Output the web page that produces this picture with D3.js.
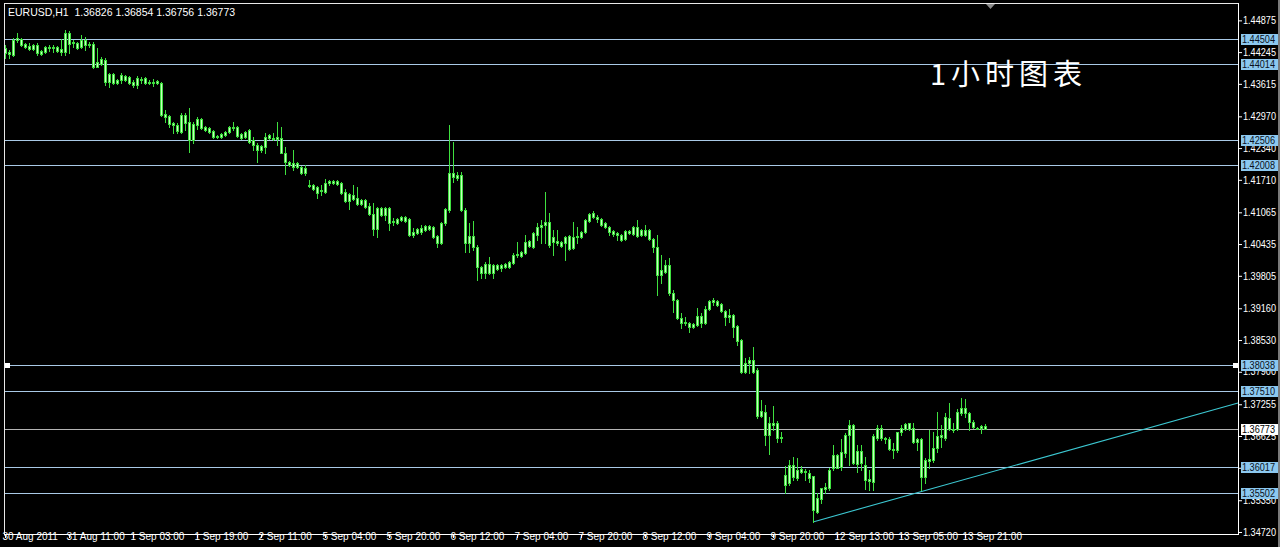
<!DOCTYPE html>
<html><head><meta charset="utf-8">
<script src="https://cdn.jsdelivr.net/npm/d3@7"></script>
<style>html,body{margin:0;padding:0;background:#000;overflow:hidden}</style>
</head><body>
<svg id="c" width="1280" height="547"></svg>
<script>
// ---------- data ----------
const symbolTitle = "EURUSD,H1";
const chartTitle = "1小时图表";
const timeLabels = ["30 Aug 2011","31 Aug 11:00","1 Sep 03:00","1 Sep 19:00","2 Sep 11:00","5 Sep 04:00","5 Sep 20:00","6 Sep 12:00","7 Sep 04:00","7 Sep 20:00","8 Sep 12:00","9 Sep 04:00","9 Sep 20:00","12 Sep 13:00","13 Sep 05:00","13 Sep 21:00"];
const timeLabelBars = [0,16,32,48,64,80,96,112,128,144,160,176,192,208,224,240];
const priceTicks = [1.44875,1.44245,1.43615,1.42970,1.42340,1.41710,1.41065,1.40435,1.39805,1.39160,1.38530,1.37900,1.37255,1.36625,1.35995,1.35350,1.34720];
const levels = [1.44504,1.44014,1.42506,1.42008,1.38038,1.37510,1.36017,1.35502];
const selectedLevel = 1.38038;
const bidPrice = 1.36773;
const trendAnchors = [{bar:202, price:1.3492},{bar:229, price:1.3552}];

const openP = [1.4423,1.4425,1.4419,1.4449,1.4451,1.4441,1.4437,1.4431,1.4439,1.4421,
1.4425,1.4435,1.4433,1.4435,1.4425,1.4425,1.4463,1.4443,1.4443,1.4435,
1.4449,1.4439,1.4441,1.4395,1.4401,1.4409,1.4365,1.4381,1.4363,1.4369,
1.4377,1.4375,1.4365,1.4359,1.4371,1.4373,1.4363,1.4365,1.4363,1.4363,
1.4302,1.4298,1.4280,1.4280,1.4266,1.4300,1.4286,1.4250,1.4280,1.4292,
1.4276,1.4274,1.4268,1.4256,1.4256,1.4260,1.4266,1.4276,1.4276,1.4262,
1.4256,1.4270,1.4250,1.4240,1.4230,1.4236,1.4254,1.4254,1.4252,1.4254,
1.4224,1.4206,1.4197,1.4204,1.4197,1.4185,1.4161,1.4161,1.4157,1.4149,
1.4147,1.4165,1.4169,1.4163,1.4165,1.4147,1.4129,1.4141,1.4135,1.4123,
1.4131,1.4119,1.4103,1.4073,1.4115,1.4101,1.4115,1.4087,1.4093,1.4091,
1.4097,1.4093,1.4062,1.4066,1.4076,1.4071,1.4079,1.4077,1.4060,1.4046,
1.4085,1.4111,1.4185,1.4175,1.4181,1.4111,1.4046,1.4060,1.4038,1.3998,
1.3986,1.4004,1.3986,1.4002,1.3996,1.3998,1.3998,1.4006,1.4022,1.4020,
1.4026,1.4050,1.4038,1.4062,1.4077,1.4081,1.4087,1.4048,1.4050,1.4048,
1.4046,1.4060,1.4036,1.4058,1.4058,1.4068,1.4089,1.4105,1.4097,1.4093,
1.4085,1.4077,1.4070,1.4066,1.4062,1.4054,1.4070,1.4064,1.4077,1.4062,
1.4071,1.4071,1.4054,1.4038,1.3982,1.3988,1.4002,1.3946,1.3933,1.3897,
1.3887,1.3887,1.3879,1.3883,1.3901,1.3887,1.3915,1.3929,1.3931,1.3925,
1.3911,1.3899,1.3903,1.3881,1.3853,1.3790,1.3808,1.3813,1.3794,1.3702,
1.3710,1.3665,1.3688,1.3688,1.3659,1.3565,1.3569,1.3605,1.3579,1.3597,
1.3591,1.3589,1.3583,1.3512,1.3538,1.3557,1.3559,1.3599,1.3625,1.3601,
1.3629,1.3665,1.3684,1.3607,1.3633,1.3605,1.3573,1.3571,1.3659,1.3679,
1.3659,1.3657,1.3637,1.3635,1.3671,1.3677,1.3689,1.3679,1.3651,1.3657,
1.3581,1.3613,1.3615,1.3639,1.3661,1.3659,1.3698,1.3677,1.3677,1.3708,
1.3718,1.3708,1.3690,1.3679,1.3679,1.36826];

const highP = [1.4439,1.4429,1.4453,1.4463,1.4453,1.4443,1.4443,1.4441,1.4443,1.4429,
1.4437,1.4439,1.4439,1.4437,1.4451,1.4469,1.4467,1.4449,1.4445,1.4459,
1.4455,1.4445,1.4445,1.4433,1.4415,1.4413,1.4383,1.4383,1.4371,1.4383,
1.4379,1.4377,1.4369,1.4377,1.4375,1.4375,1.4369,1.4371,1.4369,1.4365,
1.4310,1.4300,1.4286,1.4284,1.4304,1.4304,1.4314,1.4286,1.4296,1.4294,
1.4278,1.4276,1.4270,1.4260,1.4264,1.4268,1.4278,1.4286,1.4278,1.4264,
1.4268,1.4272,1.4256,1.4244,1.4240,1.4264,1.4262,1.4264,1.4286,1.4276,
1.4236,1.4208,1.4230,1.4206,1.4199,1.4200,1.4171,1.4163,1.4159,1.4161,
1.4173,1.4171,1.4171,1.4171,1.4167,1.4153,1.4145,1.4161,1.4157,1.4133,
1.4133,1.4125,1.4125,1.4117,1.4117,1.4117,1.4117,1.4095,1.4095,1.4099,
1.4099,1.4095,1.4076,1.4076,1.4081,1.4081,1.4081,1.4079,1.4062,1.4087,
1.4115,1.4280,1.4246,1.4187,1.4187,1.4115,1.4085,1.4089,1.4042,1.4000,
1.4008,1.4018,1.4004,1.4004,1.4004,1.4006,1.4010,1.4026,1.4048,1.4030,
1.4062,1.4052,1.4068,1.4085,1.4091,1.4147,1.4105,1.4071,1.4071,1.4050,
1.4060,1.4062,1.4087,1.4077,1.4070,1.4093,1.4105,1.4109,1.4101,1.4095,
1.4087,1.4079,1.4071,1.4068,1.4064,1.4071,1.4071,1.4079,1.4091,1.4073,
1.4081,1.4073,1.4056,1.4062,1.4022,1.4012,1.4016,1.3952,1.3935,1.3907,
1.3899,1.3889,1.3887,1.3917,1.3907,1.3921,1.3933,1.3937,1.3933,1.3927,
1.3913,1.3915,1.3905,1.3883,1.3855,1.3818,1.3819,1.3839,1.3798,1.3734,
1.3724,1.3700,1.3722,1.3692,1.3671,1.3603,1.3615,1.3621,1.3619,1.3603,
1.3597,1.3595,1.3583,1.3550,1.3559,1.3569,1.3599,1.3645,1.3627,1.3657,
1.3669,1.3694,1.3686,1.3645,1.3645,1.3621,1.3595,1.3667,1.3685,1.3685,
1.3661,1.3661,1.3649,1.3671,1.3685,1.3689,1.3689,1.3689,1.3659,1.3659,
1.3619,1.3675,1.3671,1.3710,1.3685,1.3708,1.3728,1.3689,1.3716,1.3738,
1.3736,1.3710,1.3694,1.3681,1.3685,1.36854];

const lowP = [1.4413,1.4413,1.4417,1.4445,1.4437,1.4433,1.4429,1.4429,1.4419,1.4419,
1.4423,1.4427,1.4425,1.4425,1.4419,1.4419,1.4423,1.4435,1.4431,1.4433,
1.4429,1.4435,1.4393,1.4395,1.4399,1.4359,1.4355,1.4361,1.4361,1.4363,
1.4367,1.4361,1.4355,1.4353,1.4363,1.4361,1.4361,1.4357,1.4361,1.4298,
1.4286,1.4276,1.4264,1.4264,1.4264,1.4270,1.4226,1.4244,1.4272,1.4272,
1.4268,1.4264,1.4254,1.4254,1.4254,1.4258,1.4264,1.4270,1.4256,1.4252,
1.4254,1.4244,1.4230,1.4206,1.4226,1.4224,1.4252,1.4250,1.4240,1.4224,
1.4182,1.4198,1.4191,1.4195,1.4183,1.4181,1.4157,1.4151,1.4135,1.4141,
1.4145,1.4161,1.4163,1.4161,1.4143,1.4127,1.4113,1.4131,1.4121,1.4121,
1.4115,1.4101,1.4062,1.4058,1.4099,1.4091,1.4071,1.4081,1.4083,1.4089,
1.4087,1.4060,1.4058,1.4064,1.4064,1.4070,1.4071,1.4056,1.4038,1.4044,
1.4081,1.4107,1.4167,1.4171,1.4109,1.4028,1.4028,1.4032,1.3972,1.3976,
1.3976,1.3984,1.3976,1.3992,1.3990,1.3996,1.3996,1.4004,1.4018,1.4018,
1.4024,1.4038,1.4036,1.4052,1.4046,1.4046,1.4038,1.4022,1.4042,1.4038,
1.4012,1.4032,1.4034,1.4046,1.4056,1.4066,1.4087,1.4095,1.4087,1.4079,
1.4075,1.4062,1.4060,1.4052,1.4050,1.4052,1.4064,1.4062,1.4058,1.4060,
1.4060,1.4052,1.4028,1.3942,1.3966,1.3986,1.3942,1.3909,1.3895,1.3877,
1.3883,1.3869,1.3877,1.3881,1.3879,1.3885,1.3913,1.3923,1.3921,1.3909,
1.3883,1.3889,1.3859,1.3843,1.3788,1.3788,1.3788,1.3788,1.3698,1.3700,
1.3645,1.3627,1.3675,1.3651,1.3651,1.3550,1.3565,1.3575,1.3575,1.3589,
1.3575,1.3571,1.3492,1.3510,1.3530,1.3550,1.3555,1.3595,1.3599,1.3595,
1.3621,1.3605,1.3607,1.3591,1.3595,1.3557,1.3555,1.3555,1.3655,1.3655,
1.3649,1.3635,1.3619,1.3631,1.3665,1.3675,1.3675,1.3649,1.3635,1.3555,
1.3569,1.3599,1.3611,1.3631,1.3641,1.3655,1.3675,1.3671,1.3675,1.3704,
1.3700,1.3675,1.3679,1.3677,1.3669,1.36756];

const closeP = [1.4433,1.4421,1.4449,1.4453,1.4439,1.4435,1.4431,1.4439,1.4423,1.4427,
1.4435,1.4433,1.4435,1.4427,1.4431,1.4463,1.4441,1.4445,1.4433,1.4449,
1.4439,1.4441,1.4395,1.4405,1.4411,1.4365,1.4381,1.4363,1.4369,1.4379,
1.4369,1.4363,1.4359,1.4373,1.4369,1.4363,1.4365,1.4363,1.4367,1.4300,
1.4296,1.4282,1.4284,1.4268,1.4300,1.4284,1.4250,1.4282,1.4292,1.4274,
1.4270,1.4266,1.4256,1.4258,1.4262,1.4266,1.4276,1.4274,1.4258,1.4254,
1.4266,1.4246,1.4240,1.4230,1.4238,1.4256,1.4260,1.4252,1.4256,1.4224,
1.4206,1.4200,1.4204,1.4197,1.4185,1.4195,1.4159,1.4153,1.4145,1.4151,
1.4165,1.4169,1.4165,1.4169,1.4145,1.4129,1.4143,1.4133,1.4123,1.4131,
1.4117,1.4103,1.4073,1.4115,1.4101,1.4115,1.4085,1.4089,1.4085,1.4097,
1.4089,1.4062,1.4068,1.4074,1.4068,1.4079,1.4073,1.4058,1.4046,1.4085,
1.4113,1.4185,1.4177,1.4181,1.4111,1.4046,1.4060,1.4038,1.3998,1.3986,
1.4004,1.3986,1.4002,1.3994,1.4002,1.4004,1.4008,1.4022,1.4024,1.4028,
1.4048,1.4040,1.4066,1.4077,1.4081,1.4087,1.4042,1.4058,1.4046,1.4040,
1.4058,1.4034,1.4058,1.4060,1.4068,1.4091,1.4103,1.4097,1.4093,1.4081,
1.4077,1.4068,1.4064,1.4062,1.4052,1.4070,1.4066,1.4077,1.4060,1.4071,
1.4062,1.4054,1.4038,1.3982,1.3992,1.4002,1.3946,1.3933,1.3897,1.3887,
1.3889,1.3879,1.3885,1.3901,1.3887,1.3915,1.3931,1.3933,1.3923,1.3911,
1.3899,1.3903,1.3879,1.3851,1.3790,1.3808,1.3813,1.3790,1.3702,1.3712,
1.3665,1.3688,1.3684,1.3659,1.3661,1.3585,1.3605,1.3581,1.3595,1.3591,
1.3593,1.3579,1.3516,1.3540,1.3559,1.3561,1.3595,1.3625,1.3599,1.3631,
1.3665,1.3684,1.3609,1.3633,1.3609,1.3575,1.3577,1.3663,1.3679,1.3659,
1.3657,1.3637,1.3635,1.3671,1.3679,1.3687,1.3677,1.3651,1.3657,1.3581,
1.3615,1.3617,1.3639,1.3663,1.3665,1.3700,1.3677,1.3675,1.3710,1.3718,
1.3708,1.3690,1.3681,1.3677,1.3683,1.36773];

// ---------- layout ----------
const W = 1280, H = 547;
const plotL = 4, plotT = 3, plotR = 1238, plotB = 534;
const nBars = Math.min(openP.length, highP.length, lowP.length, closeP.length);
const bars = d3.range(nBars).map(i => ({i, o: openP[i], h: highP[i], l: lowP[i], c: closeP[i]}));

const x = d3.scaleLinear().domain([0, 245]).range([5, 985]);
const y = d3.scaleLinear().domain([1.3468, 1.4520]).range([534, 4]);

const svg = d3.select("#c");
svg.append("rect").attr("width", W).attr("height", H).attr("fill", "#000");

const FONT = "'Liberation Sans', Arial, sans-serif";
const WICK = "#3fe03f", BODY = "#3fe03f", BODY_IN = "#c6ffbe";
const LABEL_W = 33;

// horizontal levels
const gLv = svg.append("g");
levels.forEach(p => {
  const yy = Math.round(y(p)) + 0.5;
  gLv.append("line").attr("x1", plotL).attr("x2", plotR).attr("y1", yy).attr("y2", yy)
    .attr("stroke", "#a9c9e6").attr("stroke-width", 1);
});
{
  const yy = Math.round(y(bidPrice)) + 0.5;
  gLv.append("line").attr("x1", plotL).attr("x2", plotR).attr("y1", yy).attr("y2", yy)
    .attr("stroke", "#b4b4b4").attr("stroke-width", 1);
}

// trend line (ray)
{
  const a = trendAnchors[0], b = trendAnchors[1];
  const slope = (b.price - a.price) / (b.bar - a.bar);
  const endBar = x.invert(plotR);
  const endPrice = a.price + slope * (endBar - a.bar);
  svg.append("line")
    .attr("x1", x(a.bar)).attr("y1", y(a.price))
    .attr("x2", x(endBar)).attr("y2", y(endPrice))
    .attr("stroke", "#3cc8d2").attr("stroke-width", 1.1);
}

// candles
const gC = svg.append("g").attr("shape-rendering", "crispEdges");
bars.forEach(d => {
  const cx = Math.round(x(d.i));
  const yh = Math.round(y(d.h)), yl = Math.round(y(d.l));
  gC.append("rect").attr("x", cx).attr("y", yh).attr("width", 1).attr("height", Math.max(1, yl - yh + 1)).attr("fill", WICK);
  const top = Math.round(y(Math.max(d.o, d.c))), bot = Math.round(y(Math.min(d.o, d.c)));
  gC.append("rect").attr("x", cx - 1).attr("y", top).attr("width", 3).attr("height", Math.max(1, bot - top + 1)).attr("fill", BODY);
  if (bot - top >= 2) {
    gC.append("rect").attr("x", cx).attr("y", top + 1).attr("width", 1).attr("height", bot - top - 1).attr("fill", BODY_IN);
  }
});

// frame
svg.append("line").attr("x1", plotL + 0.5).attr("x2", plotL + 0.5).attr("y1", plotT).attr("y2", plotB).attr("stroke", "#e8e8e8");
svg.append("line").attr("x1", plotL).attr("x2", plotR).attr("y1", plotT + 0.5).attr("y2", plotT + 0.5).attr("stroke", "#e8e8e8");
svg.append("line").attr("x1", plotL).attr("x2", plotR + 1).attr("y1", plotB + 0.5).attr("y2", plotB + 0.5).attr("stroke", "#ffffff");

// right price axis
const yAxis = d3.axisRight(y).tickValues(priceTicks).tickFormat(d => d.toFixed(5)).tickSize(4).tickSizeOuter(0).tickPadding(1);
const gY = svg.append("g").attr("transform", `translate(${plotR},0)`).call(yAxis);
gY.select(".domain").attr("stroke", "#ffffff").attr("d", `M0.5,${plotT}V${plotB + 1}`);
gY.selectAll(".tick line").attr("stroke", "#ffffff");
gY.selectAll(".tick text").attr("fill", "#ffffff").attr("font-family", FONT).attr("font-size", 10)
  .attr("textLength", LABEL_W).attr("lengthAdjust", "spacingAndGlyphs");

// bottom time axis
const xAxis = d3.axisBottom(x).tickValues(timeLabelBars).tickFormat((d, i) => timeLabels[i]).tickSize(4).tickSizeOuter(0);
const gX = svg.append("g").attr("transform", `translate(0,${plotB})`).call(xAxis);
gX.select(".domain").remove();
gX.selectAll(".tick line").attr("stroke", "#ffffff");
gX.selectAll(".tick text").attr("fill", "#ffffff").attr("font-family", FONT).attr("font-size", 10)
  .attr("text-anchor", "start").attr("x", -3).attr("dy", "0.2em").attr("y", 4);

// level label boxes
function priceBox(p, bg, fg) {
  const yy = Math.round(y(p));
  svg.append("rect").attr("x", 1241).attr("y", yy - 5).attr("width", 37).attr("height", 11).attr("fill", bg);
  svg.append("text").attr("x", 1242).attr("y", yy).attr("dy", "0.36em").attr("fill", fg)
    .attr("font-family", FONT).attr("font-size", 10)
    .attr("textLength", LABEL_W).attr("lengthAdjust", "spacingAndGlyphs").text(p.toFixed(5));
}
levels.forEach(p => priceBox(p, "#8cc8ef", "#0a1020"));
priceBox(bidPrice, "#ffffff", "#000000");

// selected-object markers on the selected level
[plotL + 3, plotR - 3].forEach(cx => {
  svg.append("rect").attr("x", cx - 2).attr("y", Math.round(y(selectedLevel)) - 2).attr("width", 5).attr("height", 5).attr("fill", "#ffffff");
});

// right window edge
svg.append("rect").attr("x", 1278).attr("y", 0).attr("width", 2).attr("height", H).attr("fill", "#7a7a7a");

// chart-shift marker
svg.append("path").attr("d", "M986,4 L995,4 L990.5,9 Z").attr("fill", "#8a8a8a");

// header
svg.append("text").attr("x", 8).attr("y", 16).attr("fill", "#ffffff").attr("font-family", FONT).attr("font-size", 10.5)
  .attr("xml:space", "preserve")
  .text(`${symbolTitle}  ${openP[nBars-1].toFixed(5)} ${highP[nBars-1].toFixed(5)} ${lowP[nBars-1].toFixed(5)} ${closeP[nBars-1].toFixed(5)}`);

// title
svg.append("text").attr("x", 930).attr("y", 85).attr("fill", "#ffffff")
  .attr("font-family", "'Noto Sans CJK SC', sans-serif").attr("font-size", 29).attr("letter-spacing", 5)
  .text(chartTitle);
</script>
</body></html>
